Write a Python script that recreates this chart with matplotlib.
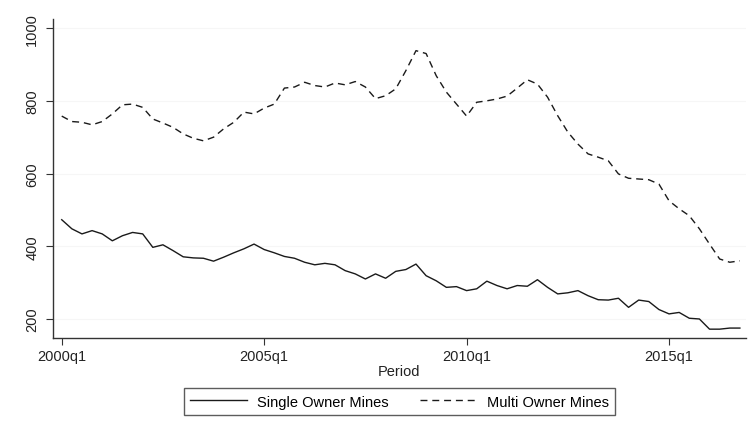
import matplotlib.pyplot as plt
import numpy as np

# quarterly counts, 2000q1 .. 2016q4
single_owner = [473, 448, 434, 443, 434, 415, 429, 438, 434, 397,
                404, 388, 371, 368, 367, 359, 370, 382, 393, 406,
                391, 382, 372, 367, 356, 349, 353, 349, 333, 324,
                310, 324, 312, 331, 336, 351, 319, 305, 287, 289,
                278, 283, 304, 292, 283, 292, 290, 308, 287, 269,
                272, 278, 264, 253, 252, 257, 232, 252, 248, 226,
                214, 218, 202, 200, 172, 172, 175, 175]
multi_owner = [758, 743, 741, 734, 743, 764, 789, 791, 782, 750,
               739, 727, 709, 697, 690, 700, 723, 741, 769, 764,
               780, 791, 835, 838, 851, 842, 838, 849, 844, 853,
               838, 806, 814, 833, 883, 938, 930, 869, 824, 791,
               758, 796, 800, 805, 813, 835, 858, 846, 810, 759,
               714, 681, 654, 645, 635, 599, 587, 585, 583, 571,
               525, 503, 484, 448, 406, 365, 356, 360]
tick_quarters = [0, 20, 40, 60]
tick_labels = ["2000q1", "2005q1", "2010q1", "2015q1"]
y_ticks = [200, 400, 600, 800, 1000]


def main():
    plt.rcParams['font.family'] = ['Liberation Sans', 'DejaVu Sans']
    fig = plt.figure(figsize=(7.51, 4.35), dpi=100)
    ax = fig.add_axes([0.0706, 0.2207, 0.9227, 0.7333])

    t = np.arange(len(single_owner))
    ax.plot(t, single_owner, color="#1a1a1a", lw=1.0, label="Single Owner Mines")
    ax.plot(t, multi_owner, color="#1a1a1a", lw=1.0, dashes=(5, 3.5),
            label="Multi Owner Mines")

    ax.set_xlim(-0.86, 67.6)
    ax.set_ylim(147.7, 1025)
    ax.set_xticks(tick_quarters)
    ax.set_xticklabels(tick_labels, fontsize=10.5)
    ax.set_yticks(y_ticks)
    ax.set_yticklabels([str(v) for v in y_ticks], fontsize=10.5,
                       rotation=90, va="center")
    ax.tick_params(length=5, width=0.8, color="#333333", labelcolor="#222222")
    ax.tick_params(axis="x", pad=3)
    ax.tick_params(axis="y", pad=5)
    ax.grid(axis="y", color="#f6f6f6", lw=0.8)
    ax.set_axisbelow(True)

    for side in ["top", "right"]:
        ax.spines[side].set_visible(False)
    for side in ["left", "bottom"]:
        ax.spines[side].set_color("#333333")
        ax.spines[side].set_linewidth(1.0)

    ax.set_xlabel("Period", fontsize=10.5, labelpad=1, color="#222222")

    leg = fig.legend(loc="center", bbox_to_anchor=(0.532, 0.0747), ncol=2,
                     fontsize=10.5, frameon=True, fancybox=False,
                     handlelength=3.9, handletextpad=0.7, columnspacing=2.1,
                     borderpad=0.45, borderaxespad=0)
    leg.get_frame().set_edgecolor("#333333")
    leg.get_frame().set_linewidth(1.0)

    fig.savefig("out.png", dpi=100)


if __name__ == "__main__":
    main()
